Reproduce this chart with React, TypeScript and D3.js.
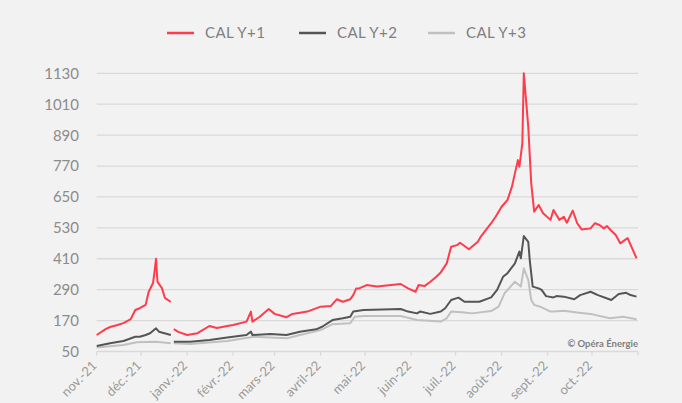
import React, { useEffect, useRef } from "react";
import * as d3 from "d3";

// CAL Y+1 / Y+2 / Y+3 prices (null = gap in the data)
const calY1: [string, number | null][] = [
  ["2021-11-01", 114], ["2021-11-07", 137], ["2021-11-10", 145], ["2021-11-15", 153],
  ["2021-11-19", 160], ["2021-11-24", 176], ["2021-11-27", 211], ["2021-11-30", 218],
  ["2021-12-04", 231], ["2021-12-06", 281], ["2021-12-09", 316], ["2021-12-10", 360],
  ["2021-12-11", 410], ["2021-12-12", 320], ["2021-12-15", 296], ["2021-12-17", 258],
  ["2021-12-21", 242], ["2021-12-22", null], ["2021-12-23", 137], ["2021-12-26", 126],
  ["2022-01-01", 114], ["2022-01-08", 121], ["2022-01-16", 149], ["2022-01-21", 141],
  ["2022-01-28", 149], ["2022-02-01", 153], ["2022-02-10", 166], ["2022-02-13", 205],
  ["2022-02-14", 166], ["2022-02-19", 185], ["2022-02-25", 215], ["2022-03-01", 196],
  ["2022-03-09", 183], ["2022-03-13", 196], ["2022-03-23", 205], ["2022-04-01", 224],
  ["2022-04-08", 227], ["2022-04-12", 253], ["2022-04-16", 243], ["2022-04-21", 253],
  ["2022-04-23", 269], ["2022-04-25", 295], ["2022-04-27", 295], ["2022-05-02", 308],
  ["2022-05-09", 302], ["2022-05-25", 312], ["2022-05-30", 295], ["2022-06-04", 282],
  ["2022-06-06", 308], ["2022-06-10", 304], ["2022-06-14", 321], ["2022-06-18", 340],
  ["2022-06-21", 357], ["2022-06-25", 392], ["2022-06-28", 457], ["2022-07-02", 463],
  ["2022-07-04", 472], ["2022-07-10", 447], ["2022-07-16", 476], ["2022-07-18", 496],
  ["2022-07-25", 548], ["2022-07-28", 573], ["2022-08-01", 612], ["2022-08-05", 638],
  ["2022-08-08", 690], ["2022-08-12", 793], ["2022-08-13", 767], ["2022-08-15", 858],
  ["2022-08-16", 1130], ["2022-08-19", 923], ["2022-08-21", 703], ["2022-08-23", 593],
  ["2022-08-26", 619], ["2022-08-29", 587], ["2022-09-03", 561], ["2022-09-05", 599],
  ["2022-09-09", 561], ["2022-09-12", 573], ["2022-09-14", 550], ["2022-09-18", 597],
  ["2022-09-21", 548], ["2022-09-24", 524], ["2022-09-30", 528], ["2022-10-03", 548],
  ["2022-10-06", 541], ["2022-10-09", 528], ["2022-10-11", 537], ["2022-10-14", 519],
  ["2022-10-17", 502], ["2022-10-20", 470], ["2022-10-25", 490], ["2022-10-28", 451],
  ["2022-10-31", 412],
];

const calY2: [string, number | null][] = [
  ["2021-11-01", 71], ["2021-11-10", 82], ["2021-11-19", 91], ["2021-11-27", 107],
  ["2021-11-30", 107], ["2021-12-04", 114], ["2021-12-07", 121], ["2021-12-11", 140],
  ["2021-12-13", 127], ["2021-12-21", 114], ["2021-12-22", null], ["2021-12-23", 88],
  ["2022-01-03", 88], ["2022-01-16", 95], ["2022-01-28", 104], ["2022-02-10", 114],
  ["2022-02-13", 127], ["2022-02-14", 114], ["2022-02-26", 118], ["2022-03-09", 114],
  ["2022-03-18", 127], ["2022-03-29", 136], ["2022-04-02", 146], ["2022-04-09", 172],
  ["2022-04-16", 179], ["2022-04-21", 185], ["2022-04-23", 205], ["2022-04-30", 211],
  ["2022-05-25", 215], ["2022-05-30", 205], ["2022-06-05", 198], ["2022-06-07", 205],
  ["2022-06-14", 196], ["2022-06-21", 205], ["2022-06-24", 218], ["2022-06-28", 250],
  ["2022-07-03", 259], ["2022-07-07", 243], ["2022-07-17", 243], ["2022-07-25", 260],
  ["2022-07-29", 289], ["2022-08-02", 340], ["2022-08-05", 354], ["2022-08-10", 392],
  ["2022-08-13", 438], ["2022-08-14", 412], ["2022-08-16", 498], ["2022-08-19", 476],
  ["2022-08-20", 405], ["2022-08-22", 302], ["2022-08-26", 295], ["2022-08-28", 289],
  ["2022-08-31", 265], ["2022-09-05", 260], ["2022-09-07", 265], ["2022-09-12", 263],
  ["2022-09-19", 253], ["2022-09-23", 269], ["2022-09-30", 282], ["2022-10-05", 269],
  ["2022-10-14", 250], ["2022-10-19", 273], ["2022-10-24", 278], ["2022-10-27", 269],
  ["2022-10-31", 263],
];

const calY3: [string, number | null][] = [
  ["2021-11-01", 66], ["2021-11-19", 75], ["2021-11-28", 86], ["2021-12-11", 88],
  ["2021-12-21", 82], ["2021-12-22", null], ["2021-12-23", 82], ["2022-01-03", 79],
  ["2022-01-28", 91], ["2022-02-15", 107], ["2022-03-09", 101], ["2022-03-18", 114],
  ["2022-04-01", 133], ["2022-04-09", 156], ["2022-04-21", 160], ["2022-04-24", 185],
  ["2022-04-30", 188], ["2022-05-25", 188], ["2022-06-05", 172], ["2022-06-21", 166],
  ["2022-06-25", 179], ["2022-06-28", 205], ["2022-07-07", 201], ["2022-07-12", 198],
  ["2022-07-25", 207], ["2022-07-30", 224], ["2022-08-03", 276], ["2022-08-10", 321],
  ["2022-08-14", 302], ["2022-08-16", 373], ["2022-08-19", 328], ["2022-08-21", 250],
  ["2022-08-23", 231], ["2022-08-27", 224], ["2022-09-03", 205], ["2022-09-05", 205],
  ["2022-09-12", 208], ["2022-09-21", 201], ["2022-09-30", 196], ["2022-10-13", 179],
  ["2022-10-22", 185], ["2022-10-31", 175],
];

const seriesNames = ["CAL Y+1", "CAL Y+2", "CAL Y+3"];
const seriesColors = ["#ff3b4c", "#555555", "#c0c0c0"];
const monthLabels = [
  "nov.-21", "déc.-21", "janv.-22", "févr.-22", "mars-22", "avril-22",
  "mai-22", "juin-22", "juil.-22", "août-22", "sept.-22", "oct.-22",
];
const yTicks = [50, 170, 290, 410, 530, 650, 770, 890, 1010, 1130];

const WIDTH = 682;
const HEIGHT = 403;

export default function App() {
  const ref = useRef<SVGSVGElement>(null);

  useEffect(() => {
    const svg = d3.select(ref.current);
    svg.selectAll("*").remove();

    const font = "Lato, 'Open Sans', sans-serif";
    const parse = d3.timeParse("%Y-%m-%d");
    const start = new Date(2021, 10, 1);
    const end = new Date(2022, 10, 1);

    const x = d3.scaleTime().domain([start, end]).range([96.7, 638]);
    const y = d3.scaleLinear().domain([50, 1130]).range([351.5, 73.3]);

    svg.append("rect").attr("width", WIDTH).attr("height", HEIGHT).attr("fill", "#f2f2f2");

    // grid
    svg.append("g")
      .selectAll("line")
      .data(yTicks.slice(1))
      .enter()
      .append("line")
      .attr("x1", x(start))
      .attr("x2", x(end))
      .attr("y1", (d) => y(d))
      .attr("y2", (d) => y(d))
      .attr("stroke", "#d9d9d9")
      .attr("stroke-width", 1.3);

    // y labels
    svg.append("g")
      .selectAll("text")
      .data(yTicks)
      .enter()
      .append("text")
      .attr("x", 79)
      .attr("y", (d) => y(d))
      .attr("dy", "0.36em")
      .attr("text-anchor", "end")
      .attr("font-family", font)
      .attr("font-size", 15)
      .attr("fill", "#8c8c8c")
      .text((d) => d);

    // x axis
    const months = d3.timeMonth.range(start, d3.timeDay.offset(end, 1));
    const xAxis = svg.append("g");
    xAxis.append("line")
      .attr("x1", x(start)).attr("x2", x(end))
      .attr("y1", y(50)).attr("y2", y(50))
      .attr("stroke", "#d9d9d9").attr("stroke-width", 1.3);
    xAxis.selectAll("line.tick")
      .data(months)
      .enter()
      .append("line")
      .attr("class", "tick")
      .attr("x1", (d) => x(d)).attr("x2", (d) => x(d))
      .attr("y1", y(50)).attr("y2", y(50) + 4)
      .attr("stroke", "#d9d9d9").attr("stroke-width", 1.3);
    xAxis.selectAll("text")
      .data(months.slice(0, monthLabels.length))
      .enter()
      .append("text")
      .attr("transform", (d) => `translate(${x(d) + 1},${y(50) + 15}) rotate(-45)`)
      .attr("text-anchor", "end")
      .attr("font-family", font)
      .attr("font-size", 13)
      .attr("fill", "#9a9a9a")
      .text((_, i) => monthLabels[i]);

    // lines
    const line = d3.line<[Date, number | null]>()
      .defined((d) => d[1] != null)
      .x((d) => x(d[0]))
      .y((d) => y(d[1] as number));

    const all = [calY1, calY2, calY3].map((s) =>
      s.map(([dt, v]) => [parse(dt) as Date, v] as [Date, number | null])
    );
    [2, 1, 0].forEach((i) => {
      svg.append("path")
        .datum(all[i])
        .attr("d", line)
        .attr("fill", "none")
        .attr("stroke", seriesColors[i])
        .attr("stroke-width", 2)
        .attr("stroke-linejoin", "round");
    });

    // legend
    const legendX = [167, 299, 428];
    const legend = svg.append("g");
    seriesNames.forEach((name, i) => {
      legend.append("line")
        .attr("x1", legendX[i]).attr("x2", legendX[i] + 27)
        .attr("y1", 33).attr("y2", 33)
        .attr("stroke", seriesColors[i]).attr("stroke-width", 2.5);
      legend.append("text")
        .attr("x", legendX[i] + 38)
        .attr("y", 33)
        .attr("dy", "0.36em")
        .attr("font-family", font)
        .attr("font-size", 15)
        .attr("letter-spacing", 0.4)
        .attr("fill", "#7f7f7f")
        .text(name);
    });

    svg.append("text")
      .attr("x", 638)
      .attr("y", 344)
      .attr("dy", "0.35em")
      .attr("text-anchor", "end")
      .attr("font-family", font)
      .attr("font-size", 9.5)
      .attr("font-weight", "bold")
      .attr("fill", "#7f7f7f")
      .text("© Opéra Énergie");
  }, []);

  return (
    <svg
      ref={ref}
      width={WIDTH}
      height={HEIGHT}
      style={{ position: "absolute", left: 0, top: 0 }}
    />
  );
}
